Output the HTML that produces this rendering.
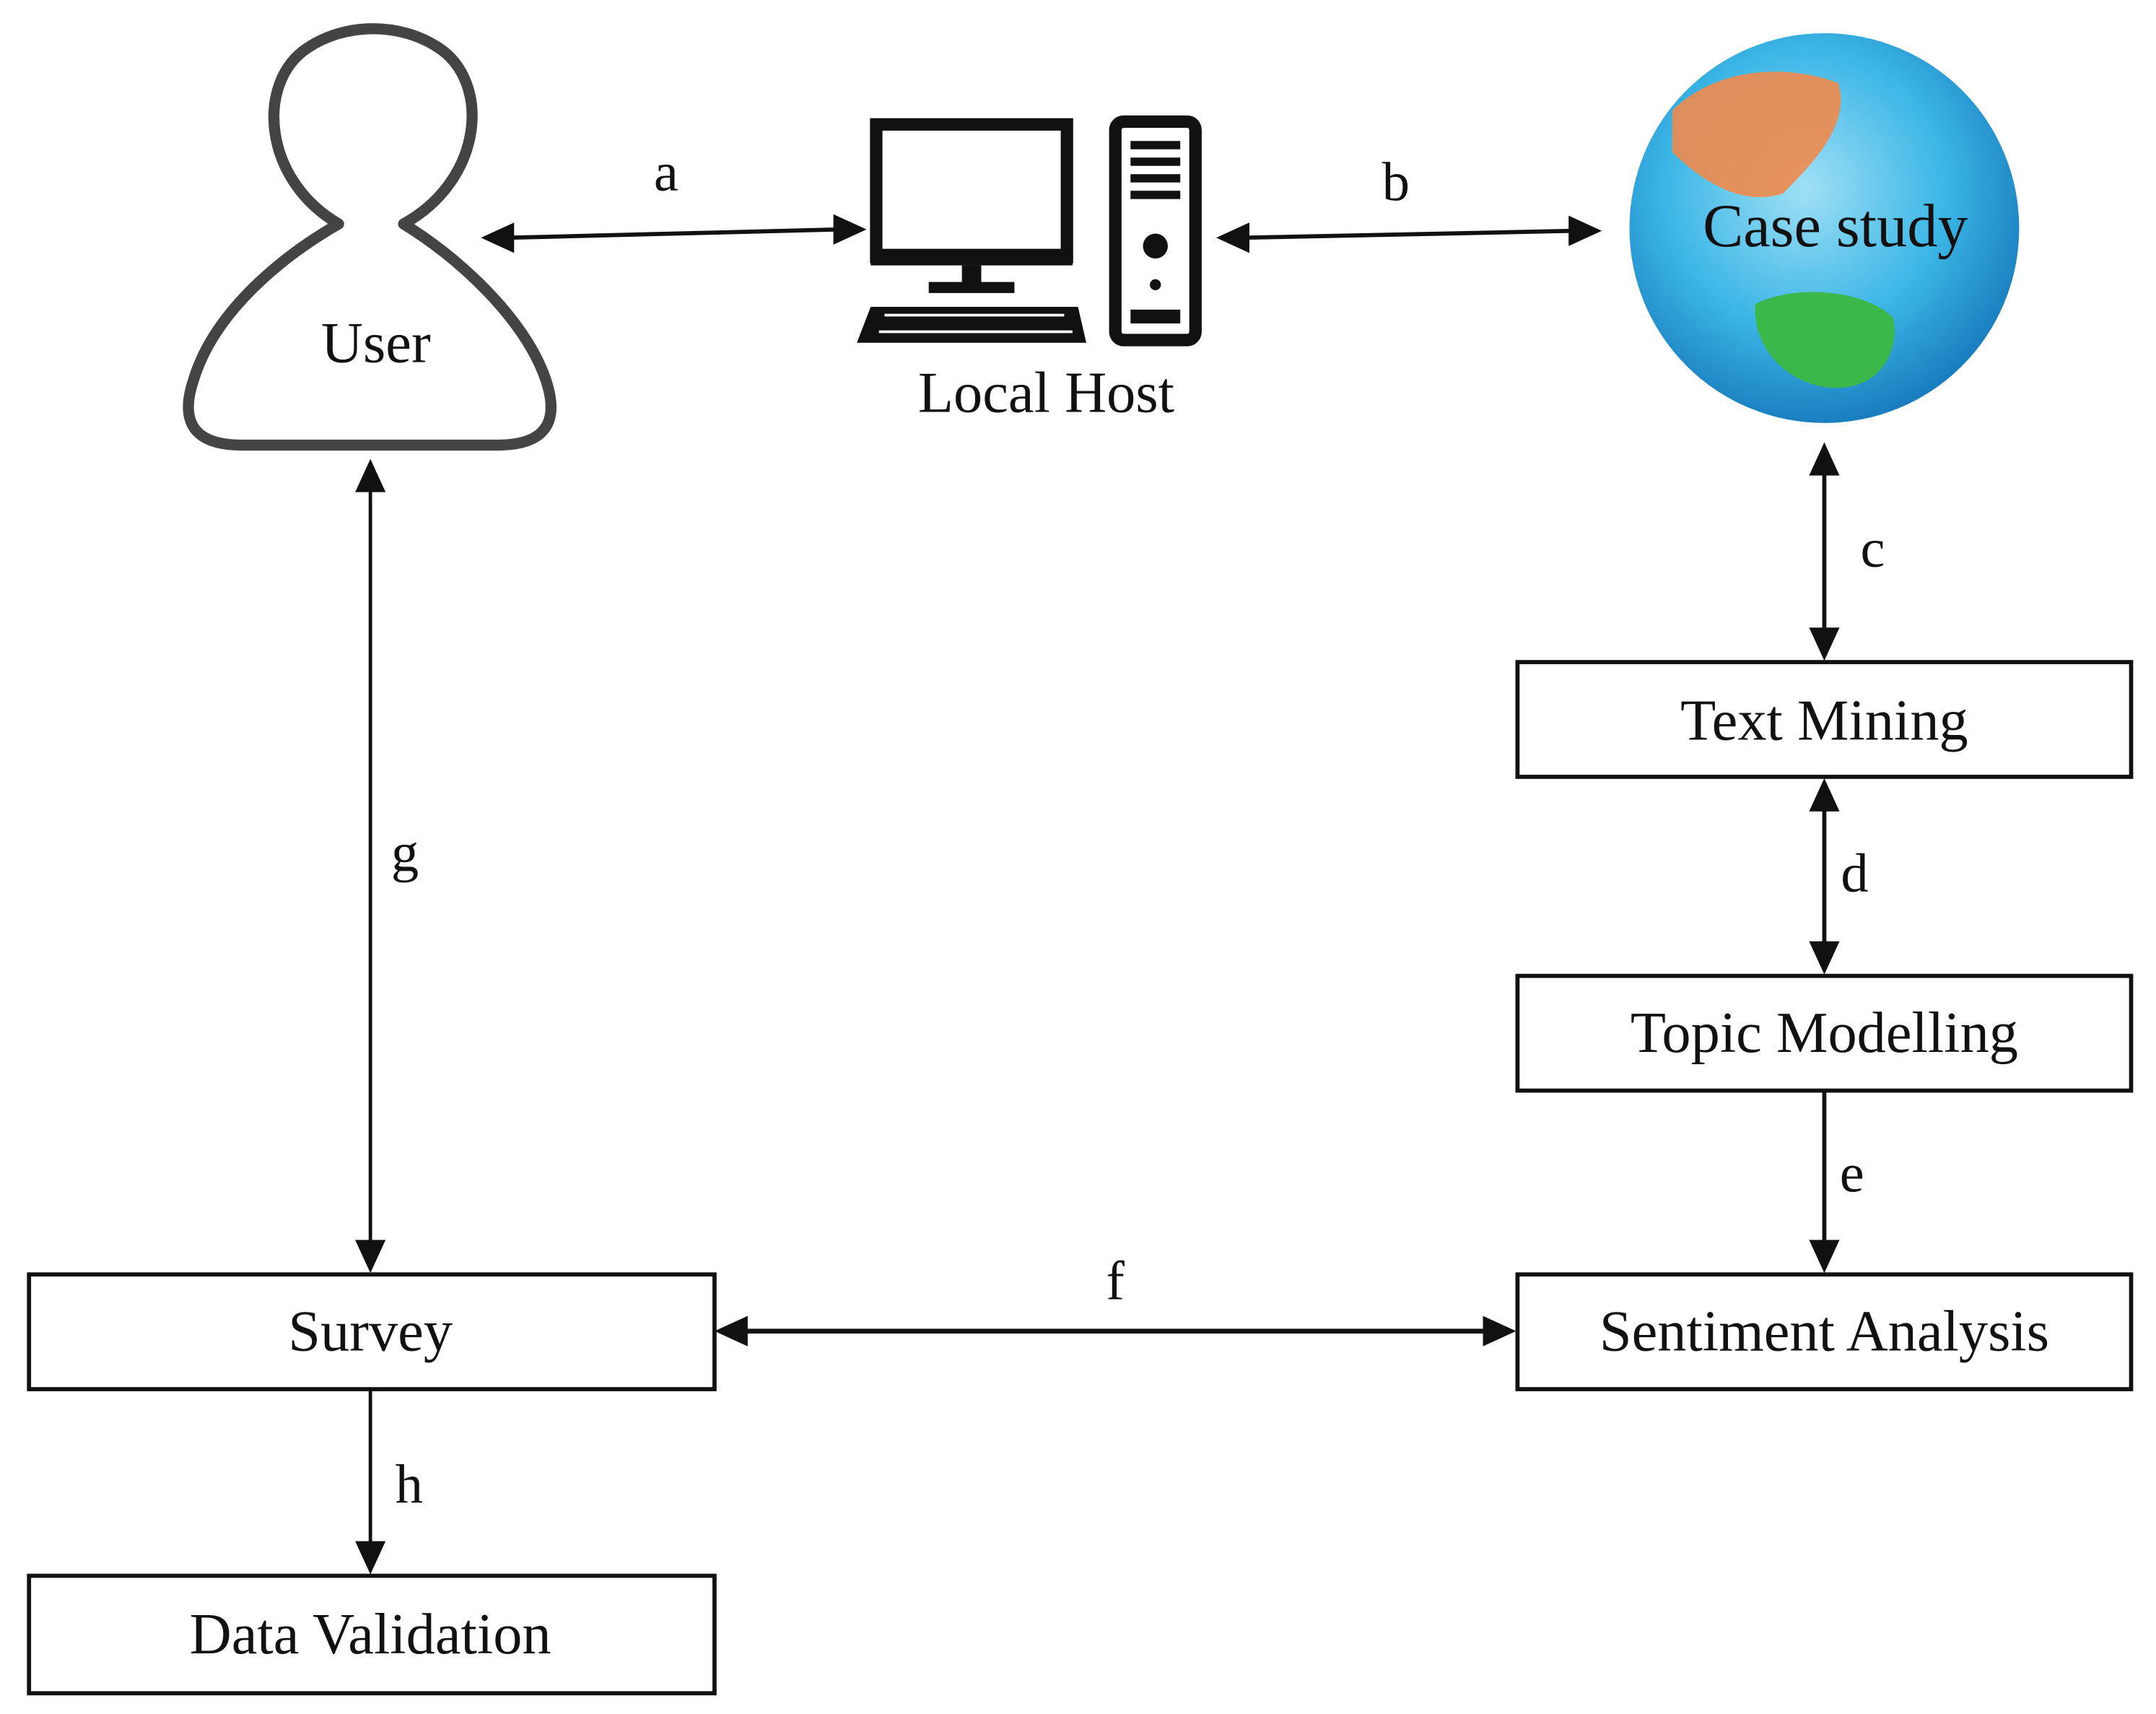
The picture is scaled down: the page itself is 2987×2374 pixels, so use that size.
<!DOCTYPE html>
<html><head><meta charset="utf-8"><style>
html,body{margin:0;padding:0;background:#fff;}
svg{display:block;}
text{font-family:"Liberation Serif",serif;fill:#111;}
</style></head><body>
<svg width="2987" height="2374" viewBox="0 0 1560 1240" preserveAspectRatio="none" xmlns="http://www.w3.org/2000/svg">
<defs>
<radialGradient id="gl" cx="45%" cy="40%" r="60%">
<stop offset="0" stop-color="#9fe0f5"/><stop offset="0.6" stop-color="#3bb6e6"/><stop offset="1" stop-color="#1a7fbf"/>
</radialGradient>
</defs>
<!-- User -->
<path d="M245,162 C190,130 185,60 222,35 C250,16 290,16 318,35 C355,60 350,130 292,162 C330,185 380,230 395,275 C405,305 395,322 360,322 L175,322 C140,322 130,305 140,275 C155,225 205,185 245,162 Z" fill="#fff" stroke="#444" stroke-width="8" stroke-linejoin="round"/>
<text x="272" y="262" font-size="42" text-anchor="middle">User</text>
<!-- computer -->
<rect x="634" y="90" width="138" height="96" fill="#fff" stroke="#111" stroke-width="9"/>
<rect x="630" y="180" width="146" height="12" fill="#111"/>
<rect x="696" y="192" width="14" height="16" fill="#111"/>
<rect x="672" y="204" width="62" height="8" fill="#111"/>
<polygon points="630,222 780,222 786,248 620,248" fill="#111"/>
<g stroke="#fff" stroke-width="2"><line x1="640" y1="228" x2="770" y2="228"/><line x1="636" y1="240" x2="776" y2="240"/></g>
<rect x="807" y="88" width="58" height="158" rx="6" fill="#fff" stroke="#111" stroke-width="9"/>
<g fill="#111"><rect x="818" y="102" width="36" height="6"/><rect x="818" y="114" width="36" height="6"/><rect x="818" y="126" width="36" height="6"/><rect x="818" y="138" width="36" height="6"/><circle cx="836" cy="178" r="9"/><circle cx="836" cy="206" r="4"/><rect x="818" y="224" width="36" height="10"/></g>
<text x="757" y="298" font-size="42" text-anchor="middle">Local Host</text>
<!-- globe -->
<circle cx="1320" cy="165" r="141" fill="url(#gl)"/>
<path d="M1210,80 C1240,50 1290,45 1330,60 C1340,90 1310,120 1290,140 C1260,150 1230,130 1210,110 Z" fill="#f08a4b" opacity="0.9"/>
<path d="M1270,220 C1300,205 1350,210 1370,230 C1375,260 1355,285 1320,280 C1290,275 1268,250 1270,220 Z" fill="#3cb84a"/>
<text x="1328" y="178" font-size="44" text-anchor="middle">Case study</text>
<!-- boxes -->
<g fill="#fff" stroke="#111" stroke-width="3">
<rect x="1098" y="479" width="444" height="83"/>
<rect x="1098" y="706" width="444" height="83"/>
<rect x="1098" y="922" width="444" height="83"/>
<rect x="21" y="922" width="496" height="83"/>
<rect x="21" y="1140" width="496" height="85"/>
</g>
<g font-size="42" text-anchor="middle">
<text x="1320" y="535">Text Mining</text>
<text x="1320" y="761">Topic Modelling</text>
<text x="1320" y="977">Sentiment Analysis</text>
<text x="268" y="977">Survey</text>
<text x="268" y="1196">Data Validation</text>
</g>
<!-- connectors -->
<g stroke="#111" fill="none">
<line x1="368" y1="172" x2="607" y2="166" stroke-width="3"/>
<line x1="900" y1="172" x2="1139" y2="167" stroke-width="3"/>
<line x1="1320" y1="340" x2="1320" y2="460" stroke-width="3"/>
<line x1="1320" y1="582" x2="1320" y2="686" stroke-width="3"/>
<line x1="1320" y1="789" x2="1320" y2="902" stroke-width="3"/>
<line x1="535" y1="963" x2="1080" y2="963" stroke-width="3.5"/>
<line x1="268" y1="352" x2="268" y2="902" stroke-width="2.5"/>
<line x1="268" y1="1005" x2="268" y2="1120" stroke-width="2.5"/>
</g>
<g fill="#111">
<polygon points="348,172 372,161 372,183"/>
<polygon points="627,166 603,155 603,177"/>
<polygon points="880,172 904,161 904,183"/>
<polygon points="1159,167 1135,156 1135,178"/>
<polygon points="1320,320 1309,344 1331,344"/>
<polygon points="1320,478 1309,454 1331,454"/>
<polygon points="1320,563 1309,587 1331,587"/>
<polygon points="1320,705 1309,681 1331,681"/>
<polygon points="1320,921 1309,897 1331,897"/>
<polygon points="517,963 541,952 541,974"/>
<polygon points="1097,963 1073,952 1073,974"/>
<polygon points="268,332 257,356 279,356"/>
<polygon points="268,921 257,897 279,897"/>
<polygon points="268,1139 257,1115 279,1115"/>
</g>
<g font-size="40" text-anchor="middle">
<text x="482" y="138">a</text>
<text x="1010" y="145">b</text>
<text x="1355" y="410">c</text>
<text x="1342" y="645">d</text>
<text x="1340" y="862">e</text>
<text x="807" y="940">f</text>
<text x="293" y="630">g</text>
<text x="296" y="1087">h</text>
</g>
</svg>
</body></html>
